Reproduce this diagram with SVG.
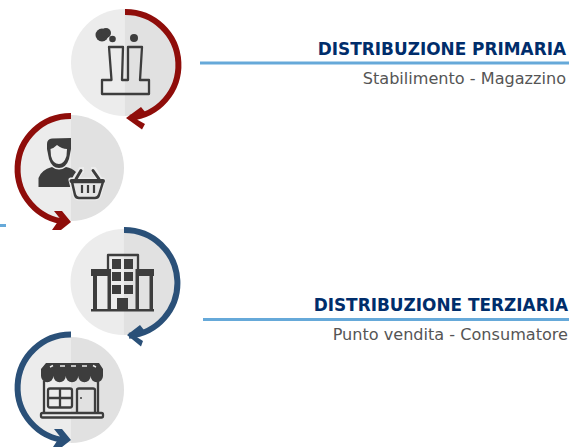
<svg xmlns="http://www.w3.org/2000/svg" width="569" height="447" viewBox="0 0 569 447">
<style>
.t{font-family:"DejaVu Sans",Verdana,sans-serif;text-anchor:end}
.h{font-size:16.9px;font-weight:700;fill:#002d6b}
.s{font-size:16.1px;fill:#555}
.rule{stroke:#66a9d9;stroke-width:3;fill:none}
.l{fill:#ececec}.d{fill:#e1e1e1}
.red{stroke:#8f0d0a;stroke-width:6;fill:none}
.blue{stroke:#2a5078;stroke-width:6;fill:none}
.fr{fill:#8f0d0a}.fb{fill:#2a5078}
.i{fill:none;stroke:#3d3d3d;stroke-width:2.300;stroke-linejoin:round}
.f{fill:#3d3d3d}
</style>
<rect width="569" height="447" fill="#fff"/>
<g id="node-stabilimento">
<path class="l" d="M124.500 9A53.500 53.500 0 0 0 124.500 116Z"/><path class="d" d="M124.500 9A53.500 53.500 0 0 1 124.500 116Z"/>
<circle class="f" cx="102" cy="35" r="6.500"/><circle class="f" cx="106" cy="33" r="5"/><circle class="f" cx="112.500" cy="39" r="3.300"/><circle class="f" cx="134" cy="38" r="4"/>
<path class="i" d="M102 80H111.500L109 47H123L122 80H128L128 47H142L140 80H149V94H102Z"/>
</g>
<g id="node-consumatore">
<path class="l" d="M71 115A53 53 0 0 0 71 221Z"/><path class="d" d="M71 115A53 53 0 0 1 71 221Z"/>
<path class="f" d="M47 144Q47 139 52 138.500L71 138V149L69 159Q66 168 59 168Q52 168 49 159L47 149Z"/>
<path d="M50.500 149Q54 148 57 145Q62 149 67 149L66.500 156Q64 164 59 164Q53 164 51 156Z" fill="#ececec"/>
<path class="f" d="M38.500 187V178Q41 170 52 167Q59 172 66 167Q72 168 76 172Q71 178 70 187Z"/>
<path d="M74 182L81 170H84M101 182L94 170H91" stroke="#ececec" stroke-width="6" fill="none"/>
<path d="M71 180H103L99 195Q98 198 95 198H79Q76 198 75 195Z" fill="#ececec" stroke="#ececec" stroke-width="5" stroke-linejoin="round"/>
<path d="M76 179L81 170.500M99 179L93 170.500" stroke="#3d3d3d" stroke-width="3" fill="none" stroke-linecap="round"/>
<path d="M72 182H103L99 195Q98 198 95 198H79Q76 198 75 195Z" fill="#e6e6e6" stroke="#3d3d3d" stroke-width="2.500" stroke-linejoin="round"/>
<path d="M71.500 181H103" stroke="#3d3d3d" stroke-width="4" stroke-linecap="round"/>
<path d="M82 185V193M88 185V193M94 185V193" stroke="#3d3d3d" stroke-width="2.200"/>
</g>
<g id="node-punto-vendita">
<path class="l" d="M123.500 229A53 53 0 0 0 123.500 335Z"/><path class="d" d="M123.500 229A53 53 0 0 1 123.500 335Z"/>
<path class="f" d="M91 269H108V276H91ZM138 269H154V276H138ZM91 309H154V311.500H91ZM93 276H97V310H93ZM149.500 276H153V310H149.500ZM107.500 269H111V310H107.500ZM135.500 269H139V310H135.500Z"/>
<path class="i" d="M108 270V255H138V270" stroke-width="2"/>
<path class="f" d="M112 259H121V269H112ZM124 259H133V269H124ZM112 272H121V281H112ZM124 272H133V281H124ZM112 285H121V294H112ZM124 285H133V294H124ZM117 298H128V310H117Z"/>
</g>
<g id="node-negozio">
<path class="l" d="M71 337A53 53 0 0 0 71 443Z"/><path class="d" d="M71 337A53 53 0 0 1 71 443Z"/>
<path class="f" d="M46 363H99L103 369V376A6.200 6.200 0 0 1 90.600 376A6.200 6.200 0 0 1 78.200 376A6.200 6.200 0 0 1 65.800 376A6.200 6.200 0 0 1 53.400 376A6.200 6.200 0 0 1 41 376V369Z"/>
<path d="M50 367L53 365.500M60 366H65M71 366H76M82 366H87M93 365.500L96 367" stroke="#ececec" stroke-width="1.500" fill="none"/>
<path class="i" d="M44 381V413M98 381V413"/>
<rect x="41" y="413" width="62" height="4.500" rx="1.500" fill="#ececec" stroke="#3d3d3d" stroke-width="2.300"/>
<rect class="i" x="48" y="388.500" width="24" height="19" rx="2"/>
<path class="i" d="M60 388.500V407.500M48 398H72"/>
<path class="i" d="M77 413V390Q77 388.500 79 388.500H93Q95 388.500 95 390V413"/>
<circle class="f" cx="81" cy="398" r="1"/>
</g>
<g id="connectors">
<path class="red" d="M125 12A53 53 0 0 1 130 117.800"/>
<path class="fr" d="M126 118L141 107L146 113L137 119.500L145 124L142 129.500Z"/>
<path class="red" d="M71 116A53 53 0 0 0 66 221.800"/>
<path class="fr" d="M71 222L62 211H54L60 218.500L52 230H61Z"/>
<path class="blue" d="M124 230A53 53 0 0 1 129 335.800"/>
<path class="fb" d="M127 335L140 325L144 330L136 336.500L143 341L141 346.500Z"/>
<path class="blue" d="M71 334.500A53 53 0 0 0 66 440.300"/>
<path class="fb" d="M71 440L62 429H54L60 436.500L53 447H62Z"/>
<path class="rule" d="M200 63H569M203 319.500H569M0 225.500H6"/>
</g>
<g id="label-primaria">
<text class="t h" x="566" y="55">DISTRIBUZIONE PRIMARIA</text>
<text class="t s" x="566" y="84">Stabilimento - Magazzino</text>
</g>
<g id="label-terziaria">
<text class="t h" x="568" y="311">DISTRIBUZIONE TERZIARIA</text>
<text class="t s" x="568" y="340">Punto vendita - Consumatore</text>
</g>
</svg>
